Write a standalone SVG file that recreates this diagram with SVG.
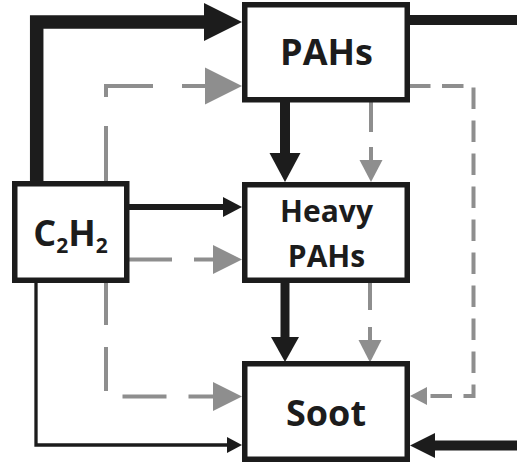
<svg xmlns="http://www.w3.org/2000/svg" width="517" height="468" viewBox="0 0 517 468">
<style>
.box{fill:#fff;stroke:#1c1c1c;stroke-width:5.5}
.lbl{font-family:"Open Sans","DejaVu Sans",sans-serif;font-weight:700;fill:#1c1c1c;text-anchor:middle}
.blk{fill:none;stroke:#1c1c1c}
.gry{fill:none;stroke:#8e8e8e;stroke-width:4}
.hb{fill:#1c1c1c}
.hg{fill:#8e8e8e}
</style>
<rect width="517" height="468" fill="#fff"/>
<g id="connectors">
  <!-- C2H2 -> PAHs thick -->
  <path class="blk" d="M36.7,184 V22 H206" stroke-width="13.5"/>
  <polygon class="hb" points="204,3 242,22 204,41"/>
  <!-- C2H2 -> PAHs gray dashed -->
  <path class="gry" d="M106,184 V86 H206" stroke-dasharray="58 29"/>
  <polygon class="hg" points="205,67.5 242,86 205,104.5"/>
  <!-- C2H2 -> Heavy PAHs black -->
  <path class="blk" d="M128,207 H225" stroke-width="6"/>
  <polygon class="hb" points="223,197 242,207 223,217"/>
  <!-- C2H2 -> Heavy PAHs gray dashed -->
  <path class="gry" d="M127,259.5 H215" stroke-dasharray="45 22"/>
  <polygon class="hg" points="213,245 242,259.5 213,274"/>
  <!-- C2H2 -> Soot gray dashed -->
  <path class="gry" d="M106,281 V396.5 H215" stroke-dasharray="44 22"/>
  <polygon class="hg" points="213,382 242,396.5 213,411"/>
  <!-- C2H2 -> Soot thin black -->
  <path class="blk" d="M36,281 V445 H229" stroke-width="3.3"/>
  <polygon class="hb" points="227,437 242,445 227,453"/>
  <!-- PAHs -> Heavy PAHs thick -->
  <path class="blk" d="M285,100 V155" stroke-width="10"/>
  <polygon class="hb" points="269.5,153 285,182 300.5,153"/>
  <!-- PAHs -> Heavy PAHs gray dashed -->
  <path class="gry" d="M371,101 V162" stroke-dasharray="31 15"/>
  <polygon class="hg" points="359.5,160 371,182 382.5,160"/>
  <!-- Heavy PAHs -> Soot thick -->
  <path class="blk" d="M285,281 V339" stroke-width="9"/>
  <polygon class="hb" points="271,337 285,362 299,337"/>
  <!-- Heavy PAHs -> Soot gray dashed -->
  <path class="gry" d="M370,281 V342" stroke-dasharray="29 17"/>
  <polygon class="hg" points="358.5,340 370,362.5 381.5,340"/>
  <!-- PAHs -> Soot gray dashed loop -->
  <path class="gry" d="M409,86 H473.5 V396 H428" stroke-dasharray="21.5 11.5"/>
  <polygon class="hg" points="410,396 427,387 427,405"/>
  <!-- PAHs out (right) -->
  <path class="blk" d="M408,20 H517" stroke-width="10"/>
  <!-- in from right to Soot -->
  <path class="blk" d="M517,445.5 H433" stroke-width="10"/>
  <polygon class="hb" points="410,445.5 435,433 435,458"/>
</g>
<g id="node-pahs">
  <rect class="box" x="244.75" y="4.75" width="162.5" height="95"/>
  <text class="lbl" x="326.5" y="65" font-size="36">PAHs</text>
</g>
<g id="node-heavy-pahs">
  <rect class="box" x="244.75" y="184.75" width="162.5" height="95.5"/>
  <text class="lbl" x="326.5" y="222" font-size="30">Heavy</text>
  <text class="lbl" x="326.5" y="267" font-size="30">PAHs</text>
</g>
<g id="node-soot">
  <rect class="box" x="244.75" y="363.75" width="162.5" height="95.5"/>
  <text class="lbl" x="326" y="425.5" font-size="36">Soot</text>
</g>
<g id="node-c2h2">
  <rect class="box" x="14.75" y="183.75" width="112" height="96.5"/>
  <text class="lbl" x="70.5" y="246" font-size="36">C<tspan font-size="21" dy="7">2</tspan><tspan dy="-7">H</tspan><tspan font-size="21" dy="7">2</tspan></text>
</g>
</svg>
